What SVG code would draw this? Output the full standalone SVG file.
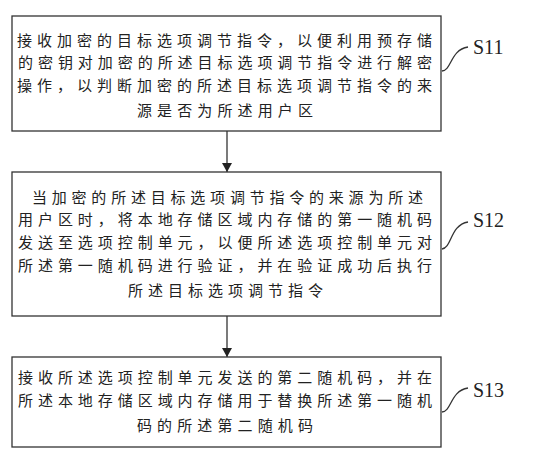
<svg xmlns="http://www.w3.org/2000/svg" width="536" height="461" viewBox="0 0 536 461">
<style>
.box{fill:#fff;stroke:#333;stroke-width:1.3}
.t{font-family:"Noto Sans CJK SC","Noto Sans",sans-serif;font-size:15px;fill:#222;dominant-baseline:central}
.lbl{font-family:"Liberation Serif",serif;font-size:20px;fill:#222;dominant-baseline:central}
.ln{fill:none;stroke:#333;stroke-width:1.3}
</style>
<defs>
<marker id="ah" markerWidth="10" markerHeight="10" refX="9" refY="5" orient="auto" markerUnits="userSpaceOnUse">
<path d="M0,0 L9,5 L0,10 Z" fill="#222"/>
</marker>
</defs>
<rect width="536" height="461" fill="#fff"/>
<g id="connectors">
<line class="ln" x1="227" y1="131" x2="227" y2="172" marker-end="url(#ah)"/>
<line class="ln" x1="227" y1="316" x2="227" y2="357" marker-end="url(#ah)"/>
<path class="ln" d="M442,71 C452,70 450,50 468,47"/>
<path class="ln" d="M442,249 C452,248 450,225 468,222"/>
<path class="ln" d="M442,412 C452,411 450,391 468,388"/>
</g>
<g id="S11">
<rect class="box" x="12" y="16" width="429" height="115"/>
<text class="t" x="17" y="39" textLength="415" lengthAdjust="spacing">接收加密的目标选项调节指令，以便利用预存储</text>
<text class="t" x="18" y="61" textLength="414" lengthAdjust="spacing">的密钥对加密的所述目标选项调节指令进行解密</text>
<text class="t" x="17" y="84" textLength="415" lengthAdjust="spacing">操作，以判断加密的所述目标选项调节指令的来</text>
<text class="t" x="137" y="109" textLength="176" lengthAdjust="spacing">源是否为所述用户区</text>
<text class="lbl" x="473" y="47">S11</text>
</g>
<g id="S12">
<rect class="box" x="12" y="172" width="429" height="144"/>
<text class="t" x="32" y="196" textLength="391" lengthAdjust="spacing">当加密的所述目标选项调节指令的来源为所述</text>
<text class="t" x="18" y="218" textLength="414" lengthAdjust="spacing">用户区时，将本地存储区域内存储的第一随机码</text>
<text class="t" x="18" y="241" textLength="414" lengthAdjust="spacing">发送至选项控制单元，以便所述选项控制单元对</text>
<text class="t" x="18" y="264" textLength="414" lengthAdjust="spacing">所述第一随机码进行验证，并在验证成功后执行</text>
<text class="t" x="128" y="289" textLength="195" lengthAdjust="spacing">所述目标选项调节指令</text>
<text class="lbl" x="473" y="220">S12</text>
</g>
<g id="S13">
<rect class="box" x="12" y="357" width="429" height="90"/>
<text class="t" x="18" y="376" textLength="414" lengthAdjust="spacing">接收所述选项控制单元发送的第二随机码，并在</text>
<text class="t" x="18" y="399" textLength="414" lengthAdjust="spacing">所述本地存储区域内存储用于替换所述第一随机</text>
<text class="t" x="137" y="424" textLength="176" lengthAdjust="spacing">码的所述第二随机码</text>
<text class="lbl" x="473" y="390">S13</text>
</g>
</svg>
